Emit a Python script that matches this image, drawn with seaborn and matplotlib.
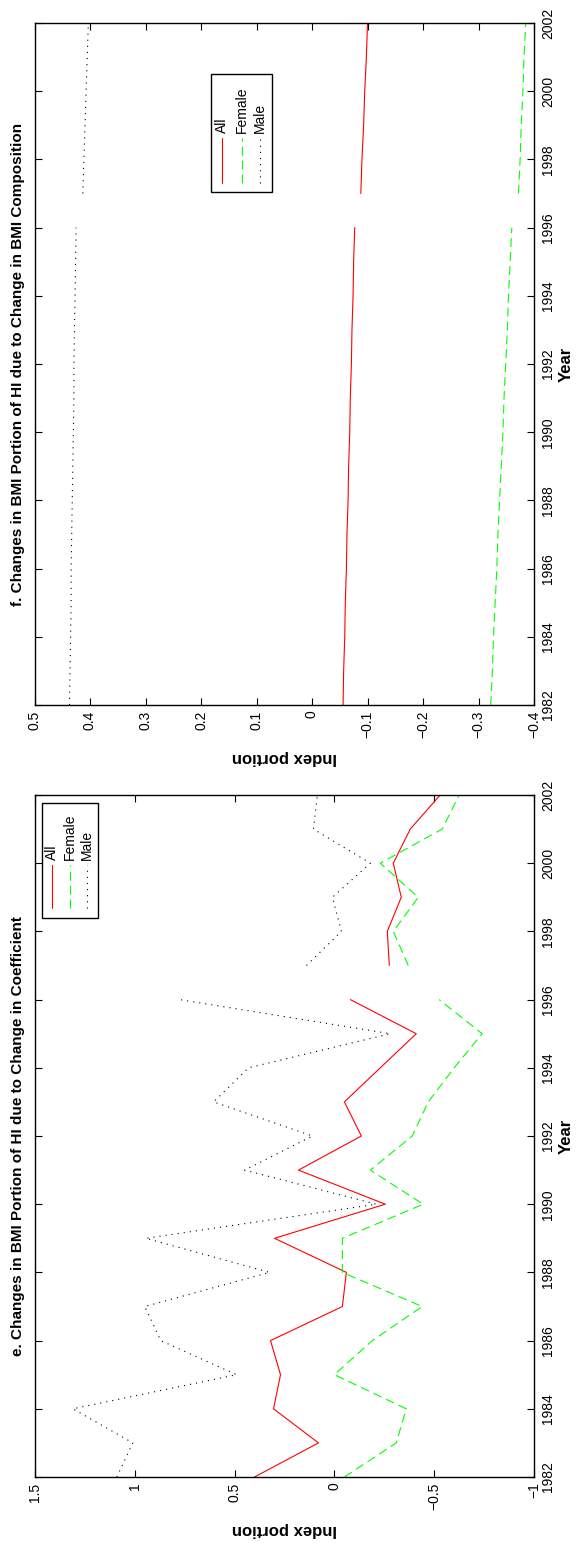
import matplotlib
matplotlib.use("Agg")
import matplotlib.pyplot as plt
import seaborn as sns
import pandas as pd
from matplotlib.patches import Rectangle
from matplotlib.lines import Line2D

# ---------------- data ----------------
years = list(range(1982, 2003))
segment_break = 1996          # lines are broken between 1996 and 1997
series_names = ["All", "Female", "Male"]

# panel e: Changes in BMI portion of HI due to change in coefficient
e_all = [0.40, 0.08, 0.305, 0.27, 0.32, -0.04, -0.06, 0.30, -0.255, 0.18,
         -0.135, -0.05, -0.23, -0.41, -0.08,
         -0.275, -0.265, -0.335, -0.295, -0.38, -0.53]
e_female = [-0.05, -0.31, -0.36, 0.00, -0.19, -0.44, -0.04, -0.04, -0.445, -0.18,
            -0.39, -0.47, -0.60, -0.74, -0.525,
            -0.37, -0.295, -0.42, -0.23, -0.54, -0.625]
e_male = [1.09, 1.01, 1.31, 0.49, 0.87, 0.95, 0.325, 0.945, -0.21, 0.45,
          0.11, 0.605, 0.43, -0.28, 0.775,
          0.14, -0.035, 0.01, -0.18, 0.105, 0.085]

# panel f: Changes in BMI portion of HI due to change in BMI composition
f_all = [-0.056, -0.057, -0.059, -0.060, -0.062, -0.063, -0.065, -0.066, -0.068,
         -0.069, -0.071, -0.072, -0.074, -0.075, -0.077,
         -0.088, -0.090, -0.093, -0.095, -0.098, -0.100]
f_female = [-0.322, -0.325, -0.327, -0.330, -0.333, -0.335, -0.338, -0.341, -0.344,
            -0.346, -0.349, -0.352, -0.354, -0.357, -0.360,
            -0.372, -0.375, -0.377, -0.380, -0.382, -0.385]
f_male = [0.437, 0.436, 0.435, 0.434, 0.434, 0.433, 0.432, 0.431, 0.430,
          0.429, 0.429, 0.428, 0.427, 0.426, 0.425,
          0.413, 0.411, 0.409, 0.407, 0.405, 0.403]

e_ticks = [1.5, 1, 0.5, 0, -0.5, -1]
f_ticks = [0.5, 0.4, 0.3, 0.2, 0.1, 0, -0.1, -0.2, -0.3, -0.4]
year_ticks = list(range(1982, 2003, 2))

e_title = "e. Changes in BMI Portion of HI due to Change in Coefficient"
f_title = "f. Changes in BMI Portion of HI due to Change in BMI Composition"
x_label = "Index portion"
y_label = "Year"

# ---------------- style ----------------
sns.set_style("white")
plt.rcParams["font.family"] = ["Liberation Sans", "DejaVu Sans"]
plt.rcParams["text.color"] = "black"
plt.rcParams["axes.labelcolor"] = "black"
plt.rcParams["xtick.color"] = "black"
plt.rcParams["ytick.color"] = "black"

W, H = 576, 1543
fig = plt.figure(figsize=(W / 100, H / 100), dpi=100)


def box(l, t, r, b):
    return [l / W, 1 - b / H, (r - l) / W, (b - t) / H]


def fx(x):
    return x / W


def fy(y):
    return 1 - y / H


colors = {"All": (1, 0, 0), "Female": (0, 1, 0), "Male": (0, 0, 0)}
dashes = {"All": "", "Female": (8, 4.5), "Male": (1, 4.5)}
LW = 0.8


def long_df(values):
    rows = []
    for name, vals in zip(series_names, values):
        for yr, v in zip(years, vals):
            rows.append({"series": name, "year": yr, "value": v,
                         "segment": 0 if yr <= segment_break else 1})
    return pd.DataFrame(rows)


def fmt(t):
    return f"{t:g}".replace("-", "\u2212")


def draw_panel(ax, values, xlim, xticks, title, ax_px, leg):
    df = long_df(values)
    sns.lineplot(data=df, x="value", y="year", hue="series", style="series",
                 units="segment", estimator=None, orient="y", sort=True,
                 palette=colors, dashes=dashes, linewidth=LW, legend=False, ax=ax)
    ax.set_xlim(*xlim)
    ax.set_ylim(1982, 2002)
    ax.set_xticks(xticks)
    ax.set_xticklabels([fmt(t) for t in xticks])
    ax.set_yticks(year_ticks)
    ax.set_yticklabels([str(y) for y in year_ticks])
    ax.tick_params(axis="both", direction="in", length=5, width=0.8, colors="black",
                   top=True, bottom=True, left=True, right=True,
                   labelbottom=True, labeltop=False, labelleft=False,
                   labelright=True, labelsize=10)
    ax.tick_params(axis="x", labelrotation=90, pad=4)
    ax.tick_params(axis="y", labelrotation=90, pad=5)
    for lbl in ax.get_yticklabels():
        lbl.set_va("center")
    for s in ax.spines.values():
        s.set_color("black")
        s.set_linewidth(1.0)
    l, t, r, b = ax_px
    ax.set_xlabel(x_label, fontsize=12, fontweight="bold", rotation=180,
                  ha="center", va="center")
    ax.xaxis.set_label_coords(0.5, -52 / (b - t))
    ax.yaxis.set_label_position("right")
    ax.set_ylabel(y_label, fontsize=12, fontweight="bold", rotation=90,
                  ha="center", va="center")
    ax.yaxis.set_label_coords((566 - l) / (r - l), 0.5)
    ax.text((18 - l) / (r - l), 0.5, title, transform=ax.transAxes, rotation=90,
            ha="center", va="center", fontsize=11, fontweight="bold")

    # legend (drawn rotated, like the reference)
    (bl, bt, br, bb), xs, text_bottom, h0, h1 = leg
    fig.add_artist(Rectangle((fx(bl), fy(bb)), (br - bl) / W, (bb - bt) / H,
                             transform=fig.transFigure, facecolor="white",
                             edgecolor="black", linewidth=1.0, zorder=5))
    for name, x in zip(series_names, xs):
        ln = Line2D([fx(x), fx(x)], [fy(h1), fy(h0)], transform=fig.transFigure,
                    color=colors[name], linewidth=LW, zorder=6)
        if dashes[name]:
            ln.set_dashes(dashes[name])
        fig.add_artist(ln)
        fig.text(fx(x), fy(text_bottom), name, rotation=90, ha="center",
                 va="bottom", fontsize=10, zorder=6)


f_px = (34.5, 23, 534, 705)
e_px = (35, 795, 534, 1477)
ax_f = fig.add_axes(box(*f_px))
ax_e = fig.add_axes(box(*e_px))

draw_panel(ax_f, [f_all, f_female, f_male], (0.5, -0.4), f_ticks, f_title, f_px,
           ((211, 74, 272, 192), (222, 242, 260), 133, 138, 183))
draw_panel(ax_e, [e_all, e_female, e_male], (1.5, -1.0), e_ticks, e_title, e_px,
           ((42, 803, 98, 918), (52, 70, 87), 860, 865, 908))

fig.savefig("out.png", dpi=100)
